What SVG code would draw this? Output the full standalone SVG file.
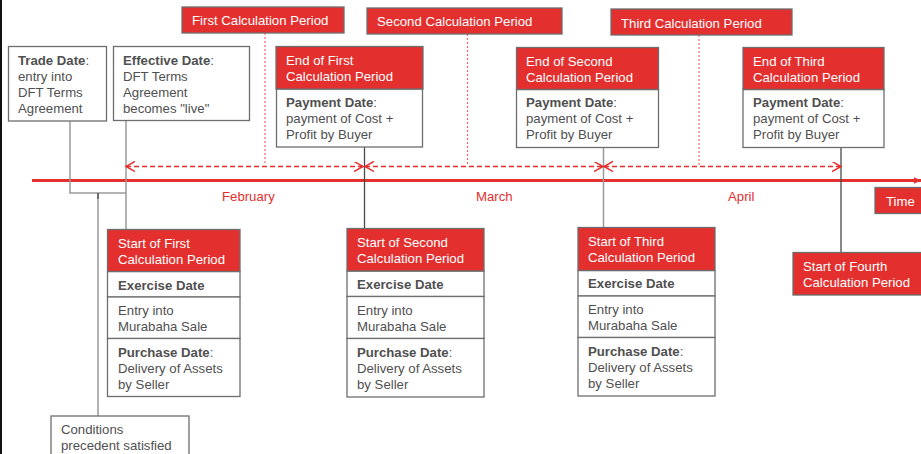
<svg xmlns="http://www.w3.org/2000/svg" width="921" height="454" viewBox="0 0 921 454">
<style>
.t{font-family:"Liberation Sans",Arial,sans-serif;font-size:13.2px;fill:#505050}
.w{fill:#ffffff}
.rt{fill:#e3302f}
.b{font-weight:bold}
.box{fill:#ffffff;stroke:#6e6e6e;stroke-width:1.3}
.rbox{fill:#e3302f;stroke:#6e6e6e;stroke-width:1.3}
.cl{stroke:#9a9a9a;stroke-width:1.5;fill:none}
.cd{stroke:#4a4a4a;stroke-width:1.3;fill:none}
.dash{stroke:#e3302f;stroke-width:1.4;stroke-dasharray:5 3;fill:none}
.dot{stroke:#ef6b6b;stroke-width:1.2;stroke-dasharray:2 2;fill:none}
</style>
<defs>
<marker id="chev" markerUnits="userSpaceOnUse" markerWidth="12" markerHeight="12" refX="9" refY="5" orient="auto-start-reverse" viewBox="0 0 12 12">
<path d="M0,0 L9,5 L0,10" fill="none" stroke="#e3302f" stroke-width="1.5"/>
</marker>
<marker id="tri" markerUnits="userSpaceOnUse" markerWidth="8" markerHeight="8" refX="7" refY="4" orient="auto" viewBox="0 0 8 8">
<path d="M0,0.8 L7,4 L0,7.2 Z" fill="#e3302f"/>
</marker>
</defs>
<rect x="0" y="0" width="921" height="454" fill="#ffffff"/>
<rect x="0" y="0" width="2" height="454" fill="#111111"/>

<g id="timeline">
<line x1="32" y1="180.5" x2="921" y2="180.5" stroke="#e3302f" stroke-width="3" marker-end="url(#tri)"/>
<text class="t rt" x="222" y="201">February</text>
<text class="t rt" x="476" y="201">March</text>
<text class="t rt" x="728" y="201">April</text>
</g>

<g id="connectors">
<path class="cl" d="M70,121 V193 H126"/>
<path class="cl" d="M126,121 V229.5"/>
<path class="cl" d="M98,193 V416"/>
<path class="cd" d="M98,193 V199"/>
<path class="cd" d="M364.5,147 V228.5"/>
<path class="cl" d="M603.5,147.5 V227.5"/>
<path class="cd" d="M841,147.5 V252.5"/>
<line class="dot" x1="265" y1="33" x2="265" y2="164"/>
<line class="dot" x1="467.5" y1="34" x2="467.5" y2="165"/>
<line class="dot" x1="699" y1="35" x2="699" y2="165"/>
<line class="dash" x1="126" y1="166.5" x2="363" y2="166.5" marker-start="url(#chev)" marker-end="url(#chev)"/>
<line class="dash" x1="365" y1="166.5" x2="603" y2="166.5" marker-start="url(#chev)" marker-end="url(#chev)"/>
<line class="dash" x1="604" y1="166.5" x2="841" y2="166.5" marker-start="url(#chev)" marker-end="url(#chev)"/>
</g>

<g id="first-period">
<rect class="rbox" x="182" y="7" width="162" height="26"/>
<text class="t w" x="192" y="25.3">First Calculation Period</text>
</g>
<g id="second-period">
<rect class="rbox" x="367" y="8" width="195" height="26"/>
<text class="t w" x="377" y="26.3">Second Calculation Period</text>
</g>
<g id="third-period">
<rect class="rbox" x="611" y="9" width="181" height="26"/>
<text class="t w" x="621" y="27.5">Third Calculation Period</text>
</g>

<g id="trade-date">
<rect class="box" x="8.5" y="46.5" width="98" height="74.5"/>
<text class="t" x="18" y="65"><tspan class="b">Trade Date</tspan>:</text>
<text class="t" x="18" y="81">entry into</text>
<text class="t" x="18" y="97">DFT Terms</text>
<text class="t" x="18" y="113">Agreement</text>
</g>

<g id="effective-date">
<rect class="box" x="113.5" y="46.5" width="136" height="74"/>
<text class="t" x="123" y="65"><tspan class="b">Effective Date</tspan>:</text>
<text class="t" x="123" y="81">DFT Terms</text>
<text class="t" x="123" y="97">Agreement</text>
<text class="t" x="123" y="113">becomes "live"</text>
</g>

<g id="end-first">
<rect class="box" x="276.5" y="89" width="146" height="58"/>
<rect class="rbox" x="276" y="46.5" width="147" height="42.5"/>
<text class="t w" x="286" y="65">End of First</text>
<text class="t w" x="286" y="81">Calculation Period</text>
<text class="t" x="286" y="106.5"><tspan class="b">Payment Date</tspan>:</text>
<text class="t" x="286" y="122.5">payment of Cost +</text>
<text class="t" x="286" y="138.5">Profit by Buyer</text>
</g>

<g id="end-second">
<rect class="box" x="516.5" y="89.5" width="142" height="58"/>
<rect class="rbox" x="516.5" y="47.5" width="142" height="42"/>
<text class="t w" x="526" y="66">End of Second</text>
<text class="t w" x="526" y="82">Calculation Period</text>
<text class="t" x="526" y="107"><tspan class="b">Payment Date</tspan>:</text>
<text class="t" x="526" y="123">payment of Cost +</text>
<text class="t" x="526" y="139">Profit by Buyer</text>
</g>

<g id="end-third">
<rect class="box" x="743" y="89.5" width="141" height="58"/>
<rect class="rbox" x="743" y="47.5" width="141" height="42"/>
<text class="t w" x="753" y="66">End of Third</text>
<text class="t w" x="753" y="82">Calculation Period</text>
<text class="t" x="753" y="107"><tspan class="b">Payment Date</tspan>:</text>
<text class="t" x="753" y="123">payment of Cost +</text>
<text class="t" x="753" y="139">Profit by Buyer</text>
</g>

<g id="start-first">
<rect class="box" x="107.5" y="271.5" width="132.5" height="25.5"/>
<rect class="box" x="107.5" y="297" width="132.5" height="41.5"/>
<rect class="box" x="107.5" y="338.5" width="132.5" height="58"/>
<rect class="rbox" x="107.5" y="229.5" width="132.5" height="42"/>
<text class="t w" x="118" y="248">Start of First</text>
<text class="t w" x="118" y="264">Calculation Period</text>
<text class="t b" x="118" y="289.5">Exercise Date</text>
<text class="t" x="118" y="315">Entry into</text>
<text class="t" x="118" y="331">Murabaha Sale</text>
<text class="t" x="118" y="356.5"><tspan class="b">Purchase Date</tspan>:</text>
<text class="t" x="118" y="372.5">Delivery of Assets</text>
<text class="t" x="118" y="388.5">by Seller</text>
</g>

<g id="start-second">
<rect class="box" x="347" y="271" width="137" height="25.5"/>
<rect class="box" x="347" y="296.5" width="137" height="42"/>
<rect class="box" x="347" y="338.5" width="137" height="58.5"/>
<rect class="rbox" x="347" y="228.5" width="137" height="42.5"/>
<text class="t w" x="357" y="247">Start of Second</text>
<text class="t w" x="357" y="263">Calculation Period</text>
<text class="t b" x="357" y="289">Exercise Date</text>
<text class="t" x="357" y="315">Entry into</text>
<text class="t" x="357" y="331">Murabaha Sale</text>
<text class="t" x="357" y="356.5"><tspan class="b">Purchase Date</tspan>:</text>
<text class="t" x="357" y="372.5">Delivery of Assets</text>
<text class="t" x="357" y="388.5">by Seller</text>
</g>

<g id="start-third">
<rect class="box" x="578" y="270.5" width="137" height="25.5"/>
<rect class="box" x="578" y="296" width="137" height="41.5"/>
<rect class="box" x="578" y="337.5" width="137" height="58.5"/>
<rect class="rbox" x="578" y="227.5" width="137" height="43"/>
<text class="t w" x="588" y="246">Start of Third</text>
<text class="t w" x="588" y="262">Calculation Period</text>
<text class="t b" x="588" y="288">Exercise Date</text>
<text class="t" x="588" y="314">Entry into</text>
<text class="t" x="588" y="330">Murabaha Sale</text>
<text class="t" x="588" y="355.5"><tspan class="b">Purchase Date</tspan>:</text>
<text class="t" x="588" y="371.5">Delivery of Assets</text>
<text class="t" x="588" y="387.5">by Seller</text>
</g>

<g id="start-fourth">
<rect class="rbox" x="793" y="252.5" width="132" height="42.5"/>
<text class="t w" x="803" y="271">Start of Fourth</text>
<text class="t w" x="803" y="287">Calculation Period</text>
</g>

<g id="conditions">
<rect class="box" x="51" y="416" width="138" height="45"/>
<text class="t" x="61" y="433.5">Conditions</text>
<text class="t" x="61" y="449.5">precedent satisfied</text>
</g>

<g id="time-label">
<rect class="rbox" x="875" y="187.5" width="50" height="26"/>
<text class="t w" x="886" y="205.5">Time</text>
</g>
</svg>
